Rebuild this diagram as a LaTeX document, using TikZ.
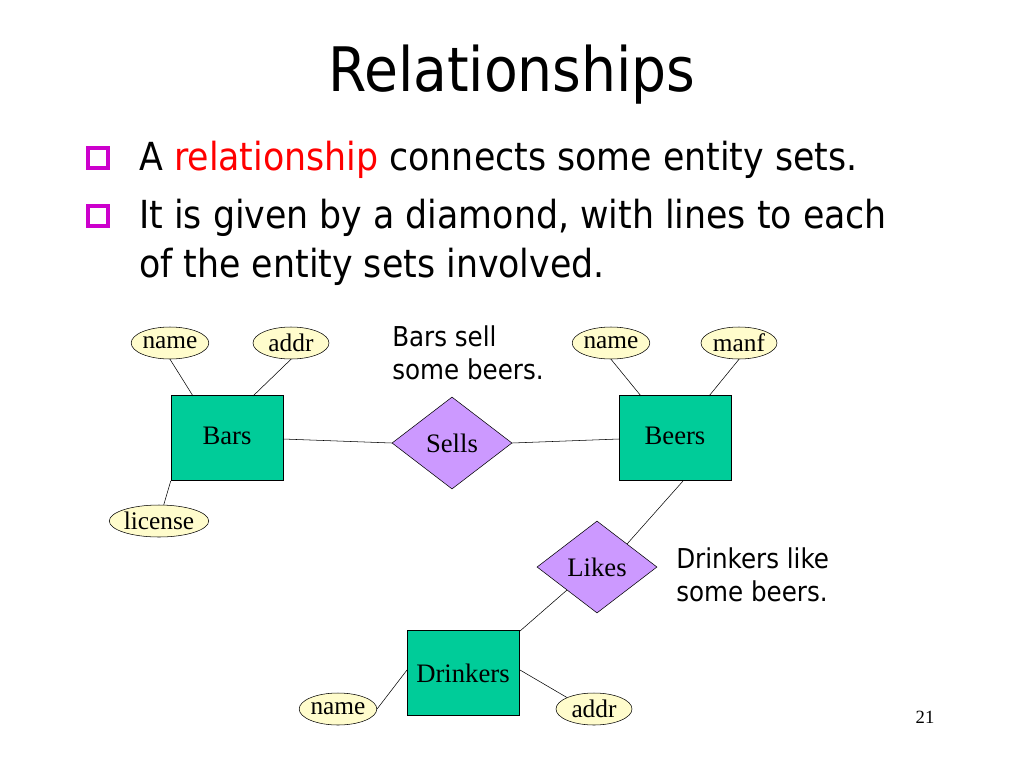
\documentclass[tikz,border=0pt]{standalone}
\usepackage{fontspec}
\setmainfont{Liberation Serif}
\newfontfamily\tsans{DejaVu Sans Condensed}
\usetikzlibrary{shapes.geometric}
\begin{document}
\begin{tikzpicture}[x=0.75pt,y=-0.75pt,
 attr/.style={ellipse,draw,fill=yellow!20,inner sep=0pt,minimum height=24pt,font=\fontsize{19}{19}\selectfont},
 ent/.style={rectangle,draw,fill=ent,minimum width=84pt,minimum height=64pt,font=\fontsize{20}{20}\selectfont,text depth=0pt},
 rel/.style={diamond,draw,fill=relc,minimum width=90pt,minimum height=69pt,inner sep=0pt,font=\fontsize{20}{20}\selectfont,aspect=1.3},
 bul/.style={draw=bulc,line width=2.6pt,minimum size=15pt,inner sep=0pt},
 note/.style={font=\tsans\fontsize{20.5}{25}\selectfont,align=left,anchor=north west,inner sep=0pt}]
\definecolor{ent}{HTML}{00CC99}\definecolor{relc}{HTML}{CC99FF}\definecolor{bulc}{HTML}{CC00CC}
\useasboundingbox (0,0) rectangle (1024,768);
\node[font=\tsans\fontsize{46}{46}\selectfont] (t) at (512,75) {Relationships};
\node[bul] (b1) at (98,158) {};
\node[bul] (b2) at (98,216) {};
\node[font=\tsans\fontsize{29}{29}\selectfont,anchor=west,inner sep=0pt] (l1) at (139,160) {A \textcolor{red}{relationship} connects some entity sets.};
\node[font=\tsans\fontsize{29}{37}\selectfont,anchor=north west,align=left,inner sep=0pt] (l2) at (139,199) {It is given by a diamond, with lines to each\\of the entity sets involved.};
% entities
\node[ent] (bars) at (227,438) {\raisebox{4pt}{Bars}};
\node[ent] (beers) at (675,438) {\raisebox{4pt}{Beers}};
\node[ent] (dr) at (463,673) {Drinkers};
\node[rel] (sells) at (452,443) {Sells};
\node[rel] (likes) at (597,567) {Likes};
\node[attr,minimum width=57pt] (bn) at (170,343) {name};
\node[attr,minimum width=57pt] (ba) at (291,343) {addr};
\node[attr,minimum width=72pt] (bl) at (159,521) {license};
\node[attr,minimum width=57pt] (en) at (611,343) {name};
\node[attr,minimum width=57pt] (em) at (739,343) {manf};
\node[attr,minimum width=57pt] (dn) at (338,709) {name};
\node[attr,minimum width=57pt] (da) at (594,709) {addr};
\draw (bn.south) -- (193,396);
\draw (ba.south) -- (253,396);
\draw (bl) -- (bars.south west);
\draw (en.south) -- (641,396);
\draw (em.south) -- (709,396);
\draw (283,439) -- (sells.west);
\draw (sells.east) -- (619,439);
\draw (683,481) -- (likes.north east);
\draw (likes.south west) -- (520,631);
\draw (dn.east) -- (407,670);
\draw (520,670) -- (da.north west);
\node[note] (n1) at (392,325) {Bars sell\\some beers.};
\node[note] (n2) at (676,547) {Drinkers like\\some beers.};
\node[font=\fontsize{14}{14}\selectfont] (pg) at (925,717) {21};
\end{tikzpicture}
\end{document}
